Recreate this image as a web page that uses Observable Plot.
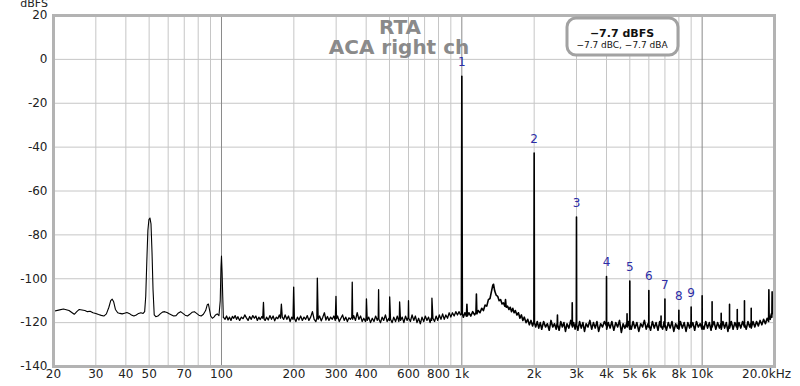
<!DOCTYPE html>
<html>
<head>
<meta charset="utf-8">
<script src="https://cdn.jsdelivr.net/npm/d3@7"></script>
<script src="https://cdn.jsdelivr.net/npm/@observablehq/plot@0.6"></script>
<style>
  html, body { margin: 0; padding: 0; background: #fff; }
  #chart { width: 800px; height: 386px; overflow: hidden; }
</style>
</head>
<body>
<div id="chart"></div>
<script>
// ---------- text ----------
const titleLines = ["RTA", "ACA right ch"];
const legendLines = ["\u22127.7 dBFS", "\u22127.7 dBC, \u22127.7 dBA"];
const yUnit = "dBFS";

// ---------- axis ticks ----------
const yTicks = [20, 0, -20, -40, -60, -80, -100, -120, -140];
const xTickValues = [20, 30, 40, 50, 70, 100, 200, 300, 400, 600, 800, 1000, 2000, 3000, 4000, 5000, 6000, 8000, 10000];
const xTickLabels = ["20", "30", "40", "50", "70", "100", "200", "300", "400", "600", "800", "1k", "2k", "3k", "4k", "5k", "6k", "8k", "10k"];
const xLastTick = [20000];
const xLastLabel = ["20.0kHz"];
const minorGrid = [30, 40, 50, 60, 70, 80, 90, 200, 300, 400, 500, 600, 700, 800, 900, 2000, 3000, 4000, 5000, 6000, 7000, 8000, 9000];
const majorGrid = [100, 1000, 10000];
const hGrid = [0, -20, -40, -60, -80, -100, -120];

// ---------- harmonic markers ----------
const harmLabel = ["1", "2", "3", "4", "5", "6", "7", "8", "9"];
const harmFreq = [1000, 2000, 3000, 4000, 5000, 6000, 7000, 8000, 9000];
const harmDb = [-7.7, -42.7, -71.9, -99, -101.1, -105.4, -109.2, -114.4, -112.9];

// ---------- spectrum [Hz, dBFS] ----------
const lowBand = [
[20,-114.8],[21,-114.3],[22,-113.8],[23.2,-114.5],[24.4,-116.2],[25,-115],[25.6,-114],[27,-114.5],[27.7,-115],[28.4,-114.8],
[29.2,-115.5],[30,-115.8],[30.8,-116.3],[31.6,-116.7],[32.4,-117],[33.2,-116],[34,-113],[34.6,-110],[35.1,-109.3],[35.6,-110.5],
[36.2,-114],[37,-115.5],[37.8,-115.8],[38.6,-116],[39.5,-115.7],[40.4,-115.4],[41.3,-115.8],[42.2,-116.5],[43.2,-117],[44.2,-116.5],
[45.2,-115.8],[46.2,-115.5],[47.2,-115.8],[47.9,-115],[48.4,-108],[48.9,-92],[49.4,-78],[49.9,-73],[50.4,-72.3],[50.9,-75],
[51.4,-88],[51.9,-105],[52.5,-116.5],[53.3,-117.3],[54.4,-117],[55.6,-116],[56.8,-115.2],[58,-115],[59.3,-115.4],[60.6,-116],
[62,-116.5],[63.3,-117],[64.7,-116.8],[66.2,-115.6],[67.6,-115],[69.1,-115.8],[70.6,-116.6],[72.2,-117],[73.8,-116.2],[75.4,-115.3],
[77.1,-115],[78.8,-115.8],[80.5,-116.6],[82.3,-117],[84.1,-116.2],[85.9,-114.5],[87.3,-111.8],[88.2,-111.5],[89.1,-114],[90.2,-117],
[91.6,-118],[93,-117.5],[94.5,-116.5],[96,-116],[97.6,-116.8],[98.8,-110],[99.5,-95],[100,-89.7],[100.6,-97],[101.2,-108],[101.8,-117.5]
];
const midBand = [
[103.5,-118.5],[105,-117],[106.5,-118.8],[108,-117.5],[109.5,-119],[111,-117.2],[112.5,-118],[114,-116.8],[115.5,-118.5],[117,-117.3],
[119,-119],[121,-117.5],[123,-118.2],[125,-116.5],[127,-117.8],[129,-119],[131,-117.2],[133,-118.5],[135,-116.8],[137,-118],
[139,-117],[141,-119],[143,-117.5],[145,-118.6],[147,-117.3],[148.5,-118],[149.5,-110.8],[150.5,-118.5],[152,-119],[154,-117.5],
[156.5,-118.8],[159,-116.8],[161.5,-118.5],[164,-117],[166.5,-119.2],[169,-117.5],[171.5,-118.2],[174,-116.5],[176,-118],[177.5,-111.6],
[179,-117.5],[181.5,-118.5],[184,-116.5],[187,-118.5],[190,-117],[193,-119.5],[196,-117.5],[198.5,-118.5],[199.7,-103.8],[201,-118],
[204,-119.5],[207,-117.5],[210,-118.8],[213.5,-117],[217,-119],[220.5,-117.5],[224,-118.5],[227.5,-116.8],[231,-119],[235,-117.5],
[239,-115],[243,-118.5],[247,-119.5],[249.3,-118],[250.5,-99.7],[252.5,-118.5],[256,-117],[260,-119.2],[264,-117.5],[268,-115.5],
[272,-118.8],[276,-117.2],[280,-119],[284.5,-117.5],[289,-118.5],[293.5,-117],[297.5,-119],[299.5,-108],[301,-118.2],[304,-117],
[309,-119.5],[314,-118],[319,-116.5],[324,-119],[329,-117.5],[334,-119.5],[339,-117.8],[344,-118.5],[348.5,-117.5],[350,-101.6],
[351.5,-118.5],[355,-116.8],[361,-119],[367,-115.5],[373,-118.5],[379,-117],[385,-119.5],[391,-118],[397,-119.5],[399.5,-118],
[401,-109.2],[404,-119],[410,-117.5],[417,-120],[424,-118],[431,-119.5],[438,-117],[445,-119],[449,-117.5],[450.5,-105],
[452,-118.5],[459,-120],[466,-117.5],[473,-119],[481,-116.5],[489,-119.5],[497,-118],[499.5,-119],[501,-108.3],[505,-118.5],
[513,-120],[521,-117.5],[530,-119.5],[539,-117],[547,-119.5],[549.5,-118],[551,-110.6],[556,-119],[565,-117.5],[574,-120],
[583,-117],[592,-119],[598.5,-117.5],[600,-110],[601.5,-118],[611,-119.5],[621,-116.5],[631,-119],[641,-117],[651,-120],
[661,-118],[672,-120.5],[683,-117.5],[694,-119.5],[705,-117],[716,-119],[727,-117.5],[738,-120],[745,-118],[749,-119],
[751,-108.8],[758,-118],[770,-119.5],[782,-117],[794,-119],[806,-116.5],[819,-118.5],[832,-116],[845,-118.5],[858,-116.5],
[872,-118],[886,-115.5],[900,-117.5],[914,-115.5],[929,-117],[944,-115],[959,-116.5],[974,-115],[988,-116.5],[996,-116]
];
const highBand = [
[1000,-7.7],[1005,-116],[1015,-117.5],[1030,-115.5],[1045,-117],[1050,-111.6],[1055,-117],[1070,-115.5],[1090,-117],[1110,-115],
[1130,-116.5],[1145,-115.5],[1150,-107],[1155,-116],[1170,-114.5],[1190,-115.5],[1210,-113.5],[1230,-114.5],[1250,-112],[1270,-112.5],
[1290,-109.5],[1310,-109],[1330,-105.5],[1345,-103],[1355,-102.5],[1370,-105.5],[1390,-107.5],[1410,-108],[1430,-110],[1450,-109.5],
[1470,-111.5],[1490,-111],[1510,-112.5],[1520,-109.5],[1530,-113],[1550,-112.5],[1570,-114],[1590,-113],[1610,-115],[1630,-113.5],
[1650,-115.5],[1670,-114.5],[1695,-116.5],[1720,-115.5],[1745,-118],[1770,-116.5],[1795,-119],[1820,-117.5],[1850,-120],[1880,-118.5],
[1910,-121],[1940,-119],[1970,-121.5],[1995,-119.5],[2000,-42.7],[2005,-120],[2030,-122],[2060,-119.5],[2090,-122.5],[2120,-120],
[2150,-123],[2190,-119.5],[2230,-122],[2270,-120.5],[2310,-123.5],[2350,-119],[2390,-122],[2430,-120.5],[2470,-123],[2495,-120],
[2500,-116.5],[2505,-121],[2540,-123.5],[2580,-119.5],[2620,-122],[2660,-120],[2700,-124],[2740,-120.5],[2790,-122.5],[2840,-119],
[2875,-121.5],[2880,-111],[2885,-122],[2920,-120],[2960,-123],[2995,-119.5],[3000,-71.9],[3005,-121],[3040,-123.5],[3090,-119.5],
[3140,-122.5],[3190,-120],[3240,-124],[3290,-120.5],[3350,-122],[3410,-119],[3470,-123],[3530,-120],[3590,-122.5],[3650,-119.5],
[3710,-124],[3780,-120.5],[3850,-122],[3920,-119.5],[3995,-121.5],[4000,-99],[4005,-123],[4070,-120],[4140,-122.5],[4210,-119.5],
[4290,-123.5],[4370,-120],[4450,-122],[4530,-119],[4610,-124.5],[4690,-120.5],[4770,-122.5],[4865,-120],[4870,-116],[4875,-122],
[4940,-119.5],[4995,-123],[5000,-101.1],[5005,-121],[5070,-123],[5160,-119.5],[5250,-122.5],[5350,-120],[5450,-124],[5550,-120.5],
[5650,-122],[5750,-119],[5850,-123],[5950,-120.5],[5995,-122],[6000,-105.4],[6005,-121],[6100,-123.5],[6210,-119.5],[6320,-122.5],
[6430,-120],[6550,-123.5],[6660,-119.5],[6740,-122],[6745,-117],[6750,-121.5],[6850,-123],[6950,-119.5],[6995,-122],[7000,-109.2],
[7005,-121],[7100,-123.5],[7230,-120],[7360,-122.5],[7490,-119.5],[7620,-124],[7760,-120.5],[7900,-122.5],[7995,-120],[8000,-114.4],
[8005,-123],[8120,-119.5],[8270,-122.5],[8420,-120],[8570,-124],[8720,-120],[8870,-122.5],[8995,-119.5],[9000,-112.9],[9005,-122],
[9150,-120],[9310,-123.5],[9470,-119.5],[9640,-122],[9810,-120.5],[9995,-123],[10000,-107.8],[10005,-121],[10170,-123],[10350,-119.5],
[10530,-122.5],[10710,-120],[10890,-123.5],[10995,-120.5],[11000,-110.5],[11005,-122],[11200,-119.5],[11400,-123],[11600,-120],[11800,-122.5],
[11995,-120],[12000,-115.7],[12005,-123],[12200,-119.5],[12400,-122.5],[12600,-120],[12800,-124],[12995,-120],[13000,-111.7],[13005,-122.5],
[13220,-119.5],[13450,-123],[13680,-120],[13900,-122],[13995,-119.5],[14000,-114],[14005,-123],[14230,-120],[14480,-122.5],[14730,-119.5],
[14995,-122],[15000,-110],[15005,-120.5],[15250,-123],[15510,-119.5],[15770,-122],[15995,-120],[16000,-113.5],[16005,-122.5],[16280,-119.5],
[16560,-122],[16840,-119.5],[17130,-121.5],[17420,-119],[17720,-121],[18020,-118.5],[18330,-120.5],[18640,-118],[18900,-119.5],[18950,-105],
[19000,-118],[19050,-117],[19200,-118.5],[19400,-116],[19500,-117.5],[19550,-106],[19600,-116],[19800,-114.5],[20000,-115]
];

// ---------- build ----------
const toRows = arr => arr.map(([f, db]) => ({f, db}));
const lowRows = toRows(lowBand);
const midRows = toRows([lowBand[lowBand.length - 1], ...midBand]);
const highRows = toRows([midBand[midBand.length - 1], ...highBand]);
const harmonics = harmLabel.map((t, i) => ({t, f: harmFreq[i], db: harmDb[i]}));
const xTicks = xTickValues.map((v, i) => ({v, label: xTickLabels[i]}));
const xLast = xLastTick.map((v, i) => ({v, label: xLastLabel[i]}));
const yTickRows = yTicks.map(v => ({v, label: String(v)}));

const FONT = "DejaVu Sans, Verdana, sans-serif";

const svg = Plot.plot({
  width: 800,
  height: 386,
  marginLeft: 53,
  marginRight: 26,
  marginTop: 15,
  marginBottom: 20,
  style: {fontFamily: FONT, fontSize: "12px", color: "#222", background: "#fff", overflow: "visible"},
  x: {type: "log", domain: [20, 20000], axis: null},
  y: {domain: [-140, 20], axis: null},
  marks: [
    Plot.ruleX(minorGrid, {stroke: "#c6c6c6", strokeWidth: 1}),
    Plot.ruleY(hGrid, {stroke: "#c6c6c6", strokeWidth: 1}),
    Plot.ruleX(majorGrid, {stroke: "#8a8a8a", strokeWidth: 1}),
    Plot.line(lowRows, {x: "f", y: "db", stroke: "#000", strokeWidth: 1.1}),
    Plot.line(midRows, {x: "f", y: "db", stroke: "#000", strokeWidth: 1.3}),
    Plot.line(highRows, {x: "f", y: "db", stroke: "#000", strokeWidth: 1.6}),
    Plot.text(harmonics, {x: "f", y: "db", text: "t", dy: -14, fill: "#2d2da6", fontSize: 12}),
    Plot.frame({stroke: "#b3b3b3", strokeWidth: 3}),
    Plot.text(yTickRows, {y: "v", text: "label", frameAnchor: "left", textAnchor: "end", dx: -6, fill: "#222", fontSize: 12}),
    Plot.text(xTicks, {x: "v", text: "label", frameAnchor: "bottom", dy: 11, fill: "#222", fontSize: 12}),
    Plot.text(xLast, {x: "v", text: "label", frameAnchor: "bottom", dy: 11, dx: -8, fill: "#222", fontSize: 12})
  ]
});

const s = d3.select(svg);
// unit label (top-left, partly clipped like the reference)
s.append("text").attr("x", 48).attr("y", 7).attr("text-anchor", "end")
  .attr("font-family", FONT).attr("font-size", 11).attr("fill", "#222").text(yUnit);

// title
s.append("text").attr("x", 400).attr("y", 33.5).attr("text-anchor", "middle")
  .attr("font-family", FONT).attr("font-weight", "bold").attr("font-size", 20).attr("fill", "#8a8a8a").text(titleLines[0]);
s.append("text").attr("x", 399).attr("y", 53.5).attr("text-anchor", "middle")
  .attr("font-family", FONT).attr("font-weight", "bold").attr("font-size", 20).attr("fill", "#8a8a8a").text(titleLines[1]);

// level box
s.append("rect").attr("x", 567).attr("y", 18).attr("width", 111).attr("height", 37).attr("rx", 9)
  .attr("fill", "#fff").attr("stroke", "#a2a2a2").attr("stroke-width", 3);
s.append("text").attr("x", 622).attr("y", 36.5).attr("text-anchor", "middle")
  .attr("font-family", FONT).attr("font-weight", "bold").attr("font-size", 11).attr("fill", "#111").text(legendLines[0]);
s.append("text").attr("x", 622).attr("y", 48).attr("text-anchor", "middle")
  .attr("font-family", FONT).attr("font-size", 9).attr("fill", "#111").text(legendLines[1]);

document.getElementById("chart").appendChild(svg);
</script>
</body>
</html>
